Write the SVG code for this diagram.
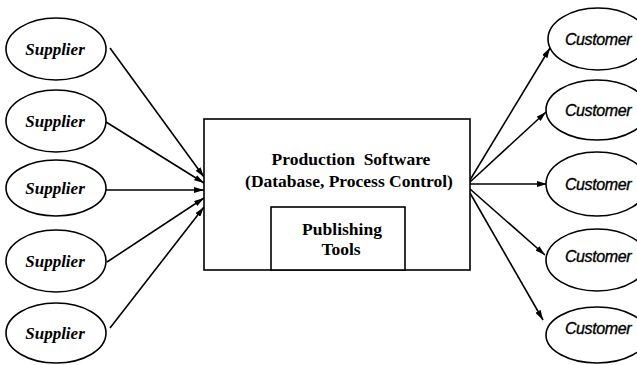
<svg xmlns="http://www.w3.org/2000/svg" width="637" height="365" viewBox="0 0 637 365">
<style>
.node{fill:#fff;stroke:#000;stroke-width:1.6}
.sup{font-family:"Liberation Serif",serif;font-weight:bold;font-style:italic;font-size:17px;text-anchor:middle}
.cus{font-family:"Liberation Sans",sans-serif;font-style:italic;font-size:16px;text-anchor:middle;letter-spacing:-0.4px;stroke:#000;stroke-width:0.35}
.box{font-family:"Liberation Serif",serif;font-weight:bold;font-size:17.5px;text-anchor:middle}
.edge{stroke:#000;stroke-width:1.6;fill:none;marker-end:url(#ah)}
</style>
<defs>
<marker id="ah" viewBox="0 0 10 6" refX="10" refY="3" markerWidth="10" markerHeight="6" markerUnits="userSpaceOnUse" orient="auto">
<path d="M0,0 L10,3 L0,6 Z" fill="#000"/>
</marker>
</defs>
<rect width="637" height="365" fill="#fff"/>
<g id="connectors">
<line class="edge" x1="110" y1="48" x2="204" y2="177"/>
<line class="edge" x1="106" y1="122" x2="204" y2="183"/>
<line class="edge" x1="106" y1="190" x2="204" y2="190"/>
<line class="edge" x1="107" y1="262" x2="204" y2="198"/>
<line class="edge" x1="110" y1="328" x2="204" y2="207"/>
<line class="edge" x1="470" y1="180" x2="550" y2="48"/>
<line class="edge" x1="470" y1="182" x2="546" y2="112"/>
<line class="edge" x1="470" y1="184" x2="547" y2="184"/>
<line class="edge" x1="470" y1="189" x2="545" y2="255"/>
<line class="edge" x1="470" y1="193" x2="543" y2="320"/>
</g>
<g id="supplier1"><ellipse class="node" cx="56" cy="49" rx="50" ry="31"/><text class="sup" x="55" y="55">Supplier</text></g>
<g id="supplier2"><ellipse class="node" cx="56" cy="121" rx="50" ry="31"/><text class="sup" x="55" y="127">Supplier</text></g>
<g id="supplier3"><ellipse class="node" cx="56" cy="188" rx="50" ry="28"/><text class="sup" x="55" y="194">Supplier</text></g>
<g id="supplier4"><ellipse class="node" cx="56" cy="261" rx="50" ry="31"/><text class="sup" x="55" y="267">Supplier</text></g>
<g id="supplier5"><ellipse class="node" cx="56" cy="333" rx="50" ry="30"/><text class="sup" x="55" y="339">Supplier</text></g>
<g id="production">
<rect class="node" x="204" y="119" width="266" height="151"/>
<text class="box" x="351" y="165" xml:space="preserve">Production  Software</text>
<text class="box" x="349" y="187">(Database, Process Control)</text>
</g>
<g id="publishing">
<rect class="node" x="271" y="207" width="134" height="63"/>
<text class="box" x="342" y="235">Publishing</text>
<text class="box" x="341" y="255">Tools</text>
</g>
<g id="customer1"><ellipse class="node" cx="598" cy="39" rx="50" ry="31"/><text class="cus" x="598" y="45">Customer</text></g>
<g id="customer2"><ellipse class="node" cx="597" cy="110" rx="51" ry="30"/><text class="cus" x="598" y="116">Customer</text></g>
<g id="customer3"><ellipse class="node" cx="597" cy="184" rx="51" ry="32"/><text class="cus" x="598" y="190">Customer</text></g>
<g id="customer4"><ellipse class="node" cx="597" cy="260" rx="51" ry="31"/><text class="cus" x="598" y="262">Customer</text></g>
<g id="customer5"><ellipse class="node" cx="597" cy="335" rx="51" ry="28"/><text class="cus" x="598" y="334">Customer</text></g>
</svg>
